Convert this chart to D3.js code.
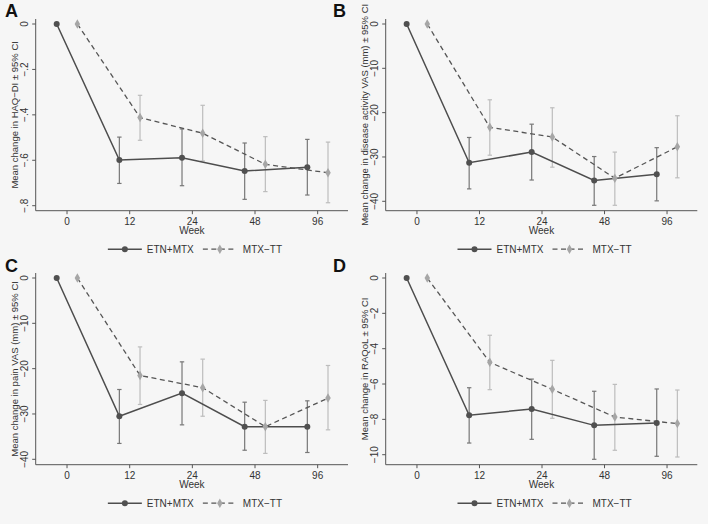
<!DOCTYPE html>
<html>
<head>
<meta charset="utf-8">
<script src="https://cdn.jsdelivr.net/npm/d3@7"></script>
<style>
  html, body { margin: 0; padding: 0; background: #f6f6f6; }
  svg { display: block; font-family: "Liberation Sans", Arial, Helvetica, sans-serif; }
</style>
</head>
<body>
<svg id="chart" width="708" height="524"></svg>
<script>
// ---------------- data ----------------
const weekLabels = ["0", "12", "24", "48", "96"];
const seriesNames = ["ETN+MTX", "MTX\u2212TT"];

// Panel A: HAQ-DI
const haqEtn = [0, -0.599, -0.589, -0.647, -0.631];
const haqEtnCI = [null, [-0.498, -0.702], [-0.462, -0.712], [-0.524, -0.772], [-0.508, -0.753]];
const haqMtx = [0, -0.412, -0.481, -0.618, -0.655];
const haqMtxCI = [null, [-0.314, -0.512], [-0.358, -0.603], [-0.496, -0.738], [-0.520, -0.787]];
const haqTicks = [0, -0.2, -0.4, -0.6, -0.8];
const haqTickLabels = ["0", "\u2212.2", "\u2212.4", "\u2212.6", "\u2212.8"];

// Panel B: disease activity VAS
const davEtn = [0, -31.3, -28.9, -35.3, -33.9];
const davEtnCI = [null, [-25.6, -37.2], [-22.6, -35.2], [-29.9, -40.9], [-27.9, -39.9]];
const davMtx = [0, -23.3, -25.5, -34.8, -27.7];
const davMtxCI = [null, [-17.1, -29.6], [-18.9, -32.3], [-28.9, -40.9], [-20.7, -34.7]];

// Panel C: pain VAS
const painEtn = [0, -30.5, -25.4, -32.8, -32.8];
const painEtnCI = [null, [-24.6, -36.5], [-18.5, -32.4], [-27.4, -38.0], [-27.1, -38.5]];
const painMtx = [0, -21.5, -24.2, -32.8, -26.5];
const painMtxCI = [null, [-15.2, -27.9], [-17.9, -30.5], [-27.0, -38.7], [-19.3, -33.5]];

const vasTicks = [0, -10, -20, -30, -40];
const vasTickLabels = ["0", "\u221210", "\u221220", "\u221230", "\u221240"];

// Panel D: RAQoL
const raqolEtn = [0, -7.77, -7.41, -8.34, -8.21];
const raqolEtnCI = [null, [-6.21, -9.34], [-5.72, -9.13], [-6.41, -10.26], [-6.28, -10.09]];
const raqolMtx = [0, -4.77, -6.30, -7.87, -8.24];
const raqolMtxCI = [null, [-3.24, -6.32], [-4.66, -7.94], [-6.02, -9.75], [-6.34, -10.13]];
const raqolTicks = [0, -2, -4, -6, -8, -10];
const raqolTickLabels = ["0", "\u22122", "\u22124", "\u22126", "\u22128", "\u221210"];

const panelLetters = ["A", "B", "C", "D"];
const yTitles = [
  "Mean change in HAQ\u2212DI \u00b1 95% CI",
  "Mean change in disease activity VAS (mm) \u00b1 95% CI",
  "Mean change in pain VAS (mm) \u00b1 95% CI",
  "Mean change in RAQoL \u00b1 95% CI"
];

// ---------------- layout ----------------
const layouts = [
  { left: 35.7, right: 348,   zeroY: 24,  lastTickY: 205.7, axisY: 210.7, letterX: 5,   letterY: 17 },
  { left: 385.7, right: 697.3, zeroY: 24,  lastTickY: 201.3, axisY: 210.7, letterX: 333, letterY: 17 },
  { left: 35.7, right: 348,   zeroY: 278, lastTickY: 459.3, axisY: 464.7, letterX: 5,   letterY: 272 },
  { left: 385.7, right: 697.3, zeroY: 278, lastTickY: 454.7, axisY: 464.7, letterX: 333, letterY: 272 }
];

const panels = [
  { etn: haqEtn, etnCI: haqEtnCI, mtx: haqMtx, mtxCI: haqMtxCI, ticks: haqTicks, tickLabels: haqTickLabels },
  { etn: davEtn, etnCI: davEtnCI, mtx: davMtx, mtxCI: davMtxCI, ticks: vasTicks, tickLabels: vasTickLabels },
  { etn: painEtn, etnCI: painEtnCI, mtx: painMtx, mtxCI: painMtxCI, ticks: vasTicks, tickLabels: vasTickLabels },
  { etn: raqolEtn, etnCI: raqolEtnCI, mtx: raqolMtx, mtxCI: raqolMtxCI, ticks: raqolTicks, tickLabels: raqolTickLabels }
];

const C = {
  axis: "#555555",
  text: "#333333",
  etnLine: "#4d4d4d",
  etnMarker: "#505050",
  etnCI: "#777777",
  mtxLine: "#555555",
  mtxMarker: "#a6a6a6",
  mtxCI: "#bdbdbd"
};
const offset = 0.165;

const svg = d3.select("#chart");
const diamond = d3.symbol().type(d3.symbolDiamond).size(26);

function drawCI(g, x, y, means, cis, off, ciColor) {
  const capW = 2.2;
  means.forEach((m, i) => {
    const ci = cis[i];
    if (!ci) return;
    const cx = x(i + off);
    g.append("line").attr("x1", cx).attr("x2", cx).attr("y1", y(ci[0])).attr("y2", y(ci[1]))
      .attr("stroke", ciColor).attr("stroke-width", 1.2);
    [ci[0], ci[1]].forEach(v => {
      g.append("line").attr("x1", cx - capW).attr("x2", cx + capW).attr("y1", y(v)).attr("y2", y(v))
        .attr("stroke", ciColor).attr("stroke-width", 1.2);
    });
  });
}

function drawLine(g, x, y, means, off, lineColor, dashed) {
  const line = d3.line().x((d, i) => x(i + off)).y(d => y(d));
  g.append("path").datum(means).attr("d", line).attr("fill", "none")
    .attr("stroke", lineColor).attr("stroke-width", dashed ? 1.3 : 1.5)
    .attr("stroke-dasharray", dashed ? "5,3.5" : null);
}

function drawMarkers(g, x, y, means, off, markerColor, isDiamond) {
  means.forEach((m, i) => {
    if (isDiamond) {
      g.append("path").attr("d", diamond).attr("transform", `translate(${x(i + off)},${y(m)})`)
        .attr("fill", markerColor);
    } else {
      g.append("circle").attr("cx", x(i + off)).attr("cy", y(m)).attr("r", 3).attr("fill", markerColor);
    }
  });
}

panels.forEach((p, k) => {
  const L = layouts[k];
  const g = svg.append("g");
  const x = d3.scaleLinear().domain([-0.5, 4.5]).range([L.left, L.right + 1]);
  const y = d3.scaleLinear().domain([p.ticks[p.ticks.length - 1], 0]).range([L.lastTickY, L.zeroY]);

  // axes lines
  g.append("line").attr("x1", L.left).attr("x2", L.left).attr("y1", L.zeroY - 5).attr("y2", L.axisY)
    .attr("stroke", C.axis).attr("stroke-width", 1);
  g.append("line").attr("x1", L.left).attr("x2", L.right).attr("y1", L.axisY).attr("y2", L.axisY)
    .attr("stroke", C.axis).attr("stroke-width", 1);

  // y ticks
  p.ticks.forEach((t, i) => {
    g.append("line").attr("x1", L.left - 3.5).attr("x2", L.left).attr("y1", y(t)).attr("y2", y(t))
      .attr("stroke", C.axis).attr("stroke-width", 1);
    g.append("text").attr("transform", `translate(${L.left - 8},${y(t)}) rotate(-90)`)
      .attr("text-anchor", "middle").attr("font-size", 10).attr("fill", C.text)
      .text(p.tickLabels[i]);
  });
  // x ticks
  weekLabels.forEach((w, i) => {
    g.append("line").attr("x1", x(i)).attr("x2", x(i)).attr("y1", L.axisY).attr("y2", L.axisY + 3.5)
      .attr("stroke", C.axis).attr("stroke-width", 1);
    g.append("text").attr("x", x(i)).attr("y", L.axisY + 14).attr("text-anchor", "middle")
      .attr("font-size", 10).attr("fill", C.text).text(w);
  });
  // x title
  const cx = (L.left + L.right) / 2;
  g.append("text").attr("x", cx).attr("y", L.axisY + 23.5).attr("text-anchor", "middle")
    .attr("font-size", 10).attr("fill", C.text).text("Week");
  // y title
  const cy = (L.zeroY - 5 + L.axisY) / 2;
  g.append("text").attr("transform", `translate(${L.left - 18},${cy}) rotate(-90)`)
    .attr("text-anchor", "middle").attr("font-size", 9.5).attr("fill", C.text).text(yTitles[k]);

  // data
  drawCI(g, x, y, p.etn, p.etnCI, -offset, C.etnCI);
  drawCI(g, x, y, p.mtx, p.mtxCI, offset, C.mtxCI);
  drawLine(g, x, y, p.etn, -offset, C.etnLine, false);
  drawLine(g, x, y, p.mtx, offset, C.mtxLine, true);
  drawMarkers(g, x, y, p.etn, -offset, C.etnMarker, false);
  drawMarkers(g, x, y, p.mtx, offset, C.mtxMarker, true);

  // legend
  const ly = L.axisY + 38.5;
  const lx = cx - 84;
  g.append("line").attr("x1", lx).attr("x2", lx + 34).attr("y1", ly).attr("y2", ly)
    .attr("stroke", C.etnLine).attr("stroke-width", 1.5);
  g.append("circle").attr("cx", lx + 17).attr("cy", ly).attr("r", 3).attr("fill", C.etnMarker);
  g.append("text").attr("x", lx + 39).attr("y", ly + 3.5).attr("font-size", 10).attr("fill", C.text)
    .text(seriesNames[0]);
  const lx2 = lx + 95;
  g.append("line").attr("x1", lx2).attr("x2", lx2 + 34).attr("y1", ly).attr("y2", ly)
    .attr("stroke", C.mtxLine).attr("stroke-width", 1.3).attr("stroke-dasharray", "5,3.5");
  g.append("path").attr("d", diamond).attr("transform", `translate(${lx2 + 17},${ly})`).attr("fill", C.mtxMarker);
  g.append("text").attr("x", lx2 + 40).attr("y", ly + 3.5).attr("font-size", 10).attr("fill", C.text)
    .text(seriesNames[1]);

  // panel letter
  svg.append("text").attr("x", L.letterX).attr("y", L.letterY).attr("font-size", 18)
    .attr("font-weight", "bold").attr("fill", "#111").text(panelLetters[k]);
});
</script>
</body>
</html>
